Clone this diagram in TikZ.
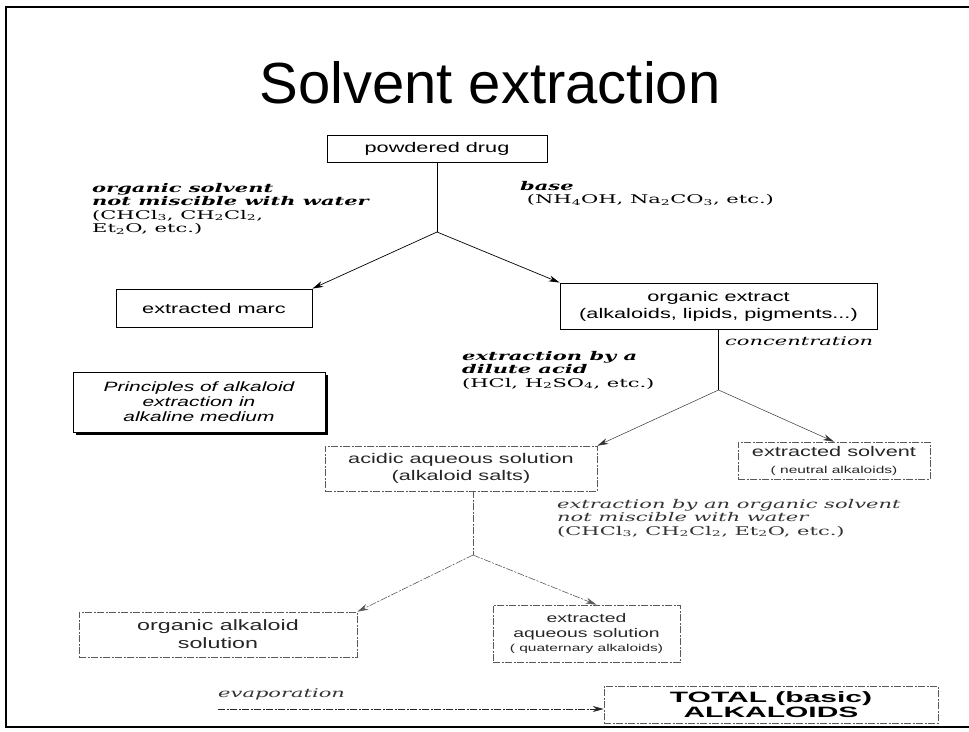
\documentclass[tikz,border=0pt]{standalone}
\usepackage{fontspec}
\usetikzlibrary{arrows.meta,shadows}
\newfontfamily\titlefont{Liberation Sans}
\newfontfamily\boxfont[FakeStretch=1.55]{Liberation Sans}
\newfontfamily\widefont[FakeStretch=2]{Liberation Sans}
\newfontfamily\labfont[FakeStretch=1.75]{DejaVu Serif}
\newcommand\chsub[1]{\textsubscript{#1}}
\newcommand\bi[1]{\textbf{\textit{#1}}}

\begin{document}
\begin{tikzpicture}[x=1pt,y=-1pt,
  box/.style={draw,line width=.8pt,align=center,inner sep=1pt,font=\boxfont\fontsize{14}{17}\selectfont},
  pale/.style={draw=black!65,text=black!85,line width=.6pt,dash pattern=on 7pt off 1.5pt on 2pt off 1.5pt},
  lab/.style={anchor=north west,align=left,inner sep=0pt,font=\labfont\fontsize{12}{13.4}\selectfont},
  arr/.style={-{Stealth[length=11pt,width=6pt]},line width=.7pt},
]
\useasboundingbox (0,0) rectangle (969,731);
\draw[line width=1.6pt] (969,7) -- (6,7) -- (6,727) -- (969,727);
\node[anchor=base,inner sep=0pt,font=\titlefont\fontsize{58}{60}\selectfont] (title) at (490,103) {Solvent extraction};

\node[box,minimum width=220,minimum height=27] (drug) at (437,148.5) {powdered drug};
\node[box,minimum width=196,minimum height=38] (marc) at (214,308) {extracted marc};
\node[box,minimum width=317,minimum height=46] (extract) at (718.5,306) {organic extract\\(alkaloids, lipids, pigments...)};
\node[box,minimum width=252,minimum height=60,font=\boxfont\itshape\fontsize{13.5}{15}\selectfont,fill=white,
  drop shadow={shadow xshift=3pt,shadow yshift=-3pt,fill=black,opacity=1}] (principles) at (199,402)
  {Principles of alkaloid\\extraction in\\alkaline medium};

\node[box,pale,minimum width=272,minimum height=45] (acidic) at (461,468.5) {acidic aqueous solution\\(alkaloid salts)};
\node[box,pale,minimum width=192,minimum height=37] (solvent) at (834,460.5)
  {extracted solvent\\{\fontsize{10}{11}\selectfont( neutral alkaloids)}};
\node[box,pale,minimum width=278,minimum height=45,font=\boxfont\fontsize{15}{18}\selectfont] (orgalk) at (218,634.5)
  {organic alkaloid\\solution};
\node[box,pale,minimum width=187,minimum height=57,font=\boxfont\fontsize{12.5}{14.5}\selectfont] (aqueous) at (586.5,633.5)
  {extracted\\aqueous solution\\{\fontsize{10}{11}\selectfont( quaternary alkaloids)}};
\node[box,pale,text=black,minimum width=334,minimum height=37,font=\widefont\bfseries\fontsize{15}{15.5}\selectfont] (total) at (771,704.5)
  {TOTAL (basic)\\ALKALOIDS};

\node[lab] (solventlab) at (92,183) {\bi{organic solvent}\\\bi{not miscible with water}\\(CHCl\chsub3, CH\chsub2Cl\chsub2,\\Et\chsub2O, etc.)};
\node[lab] (baselab) at (520,181) {\bi{base}\\\ (NH\chsub4OH, Na\chsub2CO\chsub3, etc.)};
\node[lab] (conclab) at (725,336) {\textit{concentration}};
\node[lab] (acidlab) at (462,351) {\bi{extraction by a}\\\bi{dilute acid}\\(HCl, H\chsub2SO\chsub4, etc.)};
\node[lab,text=black!80] (orglab) at (557,499) {\textit{extraction by an organic solvent}\\\textit{not miscible with water}\\(CHCl\chsub3, CH\chsub2Cl\chsub2, Et\chsub2O, etc.)};
\node[lab,text=black!80] (evaplab) at (218,688) {\textit{evaporation}};

\coordinate (j1) at (437,232);
\coordinate (j2) at (718.5,390);
\coordinate (j3) at (473,555);
\coordinate (evap) at (218,709);

\draw[line width=.7pt] (drug) -- (j1);
\draw[arr] (j1) -- (marc.north east);
\draw[arr] (j1) -- (extract.north west);
\draw[line width=.6pt] (extract) -- (j2);
\draw[arr,line width=.5pt,draw=black!80] (j2) -- (acidic.north east);
\draw[arr,line width=.5pt,draw=black!80] (j2) -- (solvent.north);
\draw[pale] (j3 |- acidic.south) -- (j3);
\draw[arr,pale] (j3) -- (orgalk.north east);
\draw[arr,pale] (j3) -- ([xshift=10pt]aqueous.north);
\draw[arr,pale,draw=black!85] (evap) -- (evap -| total.west);
\end{tikzpicture}
\end{document}
